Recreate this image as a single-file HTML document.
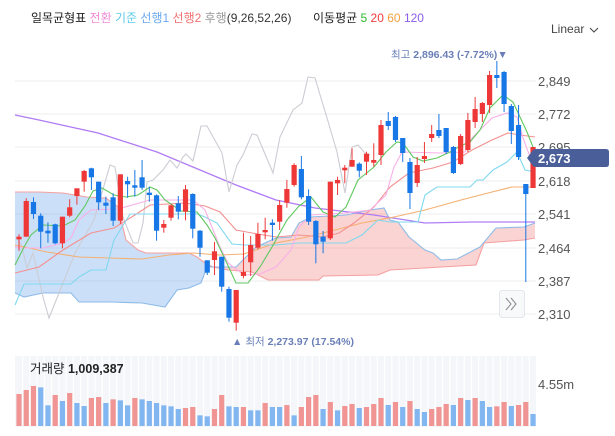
<!DOCTYPE html>
<html><head><meta charset="utf-8"><style>
body{margin:0;width:615px;height:436px;background:#fff;overflow:hidden;font-family:"Liberation Sans","Noto Sans CJK KR",sans-serif;}
svg{position:absolute;left:0;top:0}
</style></head><body>
<svg id="s" width="615" height="436" xmlns="http://www.w3.org/2000/svg">
<rect x="15" y="356" width="521" height="71" fill="#f4f6fa"/>
<g id="vol"></g>
<g stroke="#ececec" stroke-width="1">
<line x1="15" x2="536" y1="81" y2="81"/><line x1="15" x2="536" y1="114" y2="114"/>
<line x1="15" x2="536" y1="147" y2="147"/><line x1="15" x2="536" y1="181" y2="181"/>
<line x1="15" x2="536" y1="214" y2="214"/><line x1="15" x2="536" y1="248" y2="248"/>
<line x1="15" x2="536" y1="281" y2="281"/><line x1="15" x2="536" y1="314" y2="314"/>
</g>
<g id="cloud"></g>
<g id="lines" fill="none" stroke-width="1.1"></g>
<g id="candles"></g>
<g font-size="13" fill="#555">
<text x="538" y="86">2,849</text><text x="538" y="119">2,772</text><text x="538" y="152">2,695</text>
<text x="538" y="186">2,618</text><text x="538" y="219">2,541</text><text x="538" y="253">2,464</text>
<text x="538" y="286">2,387</text><text x="538" y="319">2,310</text>
<text x="538" y="389">4.55m</text>
</g>
<path d="M527,158 L533,150 Q534,149 536,149 L606,149 Q609,149 609,152 L609,164 Q609,167 606,167 L536,167 Q534,167 533,166 Z" fill="#4a5f9a"/>
<text x="538" y="163" font-size="13" fill="#fff" font-weight="bold">2,673</text>
<rect x="499.5" y="290.5" width="25" height="27" rx="3" fill="#f8f9fb" stroke="#e3e6ea"/>
<path d="M506,298 l5,6 l-5,6 M511,298 l5,6 l-5,6" stroke="#888" fill="none" stroke-width="1"/>
<text x="31" y="22" font-size="12" fill="#222">일목균형표 <tspan fill="#f08cd8">전환</tspan> <tspan fill="#5cc8e8">기준</tspan> <tspan fill="#6aa8ee">선행1</tspan> <tspan fill="#f07070">선행2</tspan> <tspan fill="#999">후행</tspan><tspan fill="#333">(9,26,52,26)</tspan>   <tspan x="313">이동평균</tspan> <tspan fill="#2ab82a">5</tspan> <tspan fill="#f03c3c">20</tspan> <tspan fill="#f5a040">60</tspan> <tspan fill="#8a5cf0">120</tspan></text>
<text x="551" y="33" font-size="12" fill="#444">Linear</text>
<path d="M590,28 l4,4 l4,-4" stroke="#444" fill="none"/>
<text x="391" y="58" font-size="10.5" fill="#6a7fb8"><tspan>최고 </tspan><tspan font-weight="bold">2,896.43 (-7.72%)</tspan>▼</text>
<text x="232" y="345" font-size="10.5" fill="#6a7fb8">▲ <tspan>최저 </tspan><tspan font-weight="bold">2,273.97 (17.54%)</tspan></text>
<text x="30" y="373" font-size="12.5" fill="#222">거래량 <tspan font-weight="bold">1,009,387</tspan></text>
</svg>
<script>
var NS="http://www.w3.org/2000/svg";
function el(p,t,a){var e=document.createElementNS(NS,t);for(var k in a)e.setAttribute(k,a[k]);p.appendChild(e);return e;}
function X(i){return 19+i*7.24;}
var C=[
[236.7,239.3,234.3,250.7,'r'],[201,236.7,198.3,236.7,'r'],[202,214,197.3,219,'b'],[215.7,231.7,213.3,248.3,'b'],
[230.7,233.3,222.3,242.7,'b'],[224.3,243.3,223.7,244.3,'b'],[216.7,243.3,216.7,248.3,'r'],[207.3,215.7,199.3,217.3,'r'],
[188.3,196,188.3,204.7,'r'],[171,181.7,170,191.7,'r'],[168.3,177.3,167.7,190,'b'],[181.7,202.3,181.7,210,'b'],
[202.7,205.7,196.7,214,'b'],[197.3,220.7,193.3,226,'b'],[174.3,220.7,174.3,224,'r'],[181,184.3,176.7,197.7,'b'],
[185.3,187.7,170,196.7,'b'],[177.3,187.7,160,190,'b'],[192.7,195,186.7,201.7,'b'],[195.3,230.7,194.3,240.7,'b'],
[224,227.7,220,232.7,'r'],[205.3,217.7,204.3,220.7,'r'],[203.3,211.7,196,219.3,'b'],[189.3,211.7,185,220.3,'r'],
[194,228.7,193.3,238.3,'b'],[230.7,247.7,230,256.7,'b'],[260.3,272.7,260.3,275,'b'],[251.3,260,242,275,'r'],
[256.7,286.7,256.7,291.7,'b'],[289,317.7,286.7,321.7,'b'],[290,322.7,290,330.7,'r'],[272,276,232.7,278.3,'r'],
[245,262.3,236,276,'r'],[234,247.7,222.7,249.3,'r'],[230,232.3,217.7,239.3,'r'],[222.7,225,219.3,240.7,'b'],
[205,221.7,200,230,'r'],[189,202.7,180,207.7,'r'],[165,185,163.3,186.7,'r'],[169,197.3,156,199.3,'b'],
[196,221.7,189.3,225,'b'],[221,244.3,220,263.3,'b'],[236.7,241.7,231,253.3,'b'],[181.7,238.3,181.7,240,'r'],
[180,183.3,176.7,195,'r'],[167.7,170.3,165,183.3,'r'],[160,166.7,148.3,166.7,'r'],[163.7,170.7,162.3,177.3,'b'],
[153.7,161.7,151.7,175,'r'],[160,162.7,143.3,166.7,'r'],[125,155,120,165,'r'],[121,126,112,130,'b'],
[117,140,116,142,'b'],[138,153,138,162,'b'],[162,193,158,209,'b'],[165,183,157,187,'r'],
[156,159,142,163,'r'],[134,138,125,142,'r'],[130,136,114,138,'b'],[128,152,128,154,'b'],
[147,173,146,174,'b'],[136,164,134,165,'r'],[120,150,113,152,'r'],[109,122,97,128,'r'],
[103,114,102,122,'r'],[75,105,71,113,'r'],[75,78,61,88,'b'],[72,104,71,112,'b'],
[106,131,104,144,'b'],[125,157,105,160,'b'],[184,194,184,282,'b'],[147,188,147,188,'r']];
var g=document.getElementById('candles');
C.forEach(function(c,i){var x=X(i),col=c[4]=='r'?'#ee3838':'#1877e6';
el(g,'line',{x1:x,x2:x,y1:c[2],y2:c[3],stroke:col,'stroke-width':1});
el(g,'rect',{x:x-2.6,y:c[0],width:5.2,height:Math.max(1.5,c[1]-c[0]),fill:col});});
var V=[['r',162],['r',150],['r',138],['b',142],['b',196],['r',165],['b',183],['r',159],['b',189],['b',198],['r',174],['r',171],['b',189],['r',178],['b',181],['b',196],['r',174],['b',178],['b',183],['b',189],['b',196],['b',199],['b',207],['r',204],['r',201],['b',226],['b',229],['r',207],['r',165],['b',199],['b',201],['r',201],['b',211],['b',211],['r',189],['b',201],['b',201],['r',195],['b',226],['r',201],['r',171],['r',165],['b',207],['r',186],['b',211],['r',198],['r',192],['b',204],['r',201],['r',192],['r',174],['b',195],['r',186],['b',201],['r',183],['b',207],['b',216],['r',207],['r',201],['r',192],['b',195],['r',174],['b',180],['r',174],['b',183],['b',201],['r',199],['r',186],['b',198],['r',195],['r',186],['b',222]];
var vg=document.getElementById('vol');
V.forEach(function(v,i){var x=X(i);el(vg,'line',{x1:x+3.6,x2:x+3.6,y1:356,y2:427,stroke:'#fff','stroke-width':1.2});
var t=340+v[1]/3;el(vg,'rect',{x:x-2.6,y:t,width:5.2,height:426-t,fill:v[0]=='r'?'#f09494':'#82b6f0'});});
function P(a){return a.map(function(p){return p.join(',')}).join(' ');}
var top2=[[15,192],[39,192],[63,193],[87,197],[106,198],[118,207],[126,240],[138,250],[146,253],[189,253],[197,257],[205,263],[213,267],[228,270],[252,272],[268,280],[319,280],[323,276],[378,275],[390,270],[476,265],[484,243],[524,240],[535,238]];
var s1=[[15,293],[24,297],[43,293],[71,293],[79,302],[110,302],[142,303],[165,307],[177,290],[189,288],[201,283],[207,267],[220,267],[236,267],[256,247],[276,238],[291,237],[299,223],[311,217],[346,215],[370,210],[384,208],[390,220],[398,222],[409,237],[425,250],[433,253],[441,260],[457,259],[480,247],[496,228],[524,227],[535,223]];
var cg=document.getElementById('cloud');
var poly=s1.concat(top2.slice().reverse());
el(cg,'clipPath',{id:'cb'});el(document.getElementById('cb'),'rect',{x:0,y:0,width:206,height:436});
el(cg,'clipPath',{id:'cr'});el(document.getElementById('cr'),'rect',{x:206,y:0,width:400,height:436});
el(cg,'polygon',{points:P(poly),fill:'rgba(110,165,235,0.36)','clip-path':'url(#cb)'});
el(cg,'polygon',{points:P(poly),fill:'rgba(240,110,110,0.3)','clip-path':'url(#cr)'});
var L=document.getElementById('lines');
function line(pts,col,w){el(L,'polyline',{points:P(pts),stroke:col,'stroke-width':w||1.1});}
line(top2,'#f5a0a0');line(s1,'#8ebbe8');
line([[15,115],[39,120],[98,133],[157,152],[236,185],[276,200],[315,208],[374,215],[425,223],[472,222],[535,222]],'#b07cf5',1.3);
line([[17,237],[22,247],[27,268],[33,253],[43,297],[49,318],[63,283],[75,253],[94,220],[110,165],[115,167],[123,217],[133,243],[138,243],[143,223],[147,182],[153,180],[163,170],[170,160],[177,168],[183,157],[186,154],[193,161],[201,126],[207,126],[222,153],[229,192],[237,165],[243,155],[252,134],[257,135],[273,173],[280,137],[293,110],[302,103],[308,77],[315,78],[327,118],[337,152],[345,193],[352,147],[358,145],[365,153],[370,155]],'#cccdd4');
line([[15,245],[47,252],[79,257],[110,258],[142,259],[169,255],[193,253],[220,255],[244,254],[276,243],[307,237],[335,230],[362,223],[394,217],[425,210],[461,200],[492,192],[512,187],[535,187]],'#f5b070');
line([[15,273],[39,267],[63,250],[91,233],[114,228],[138,213],[150,205],[185,203],[205,206],[220,212],[236,230],[252,233],[276,237],[299,235],[323,237],[339,233],[354,223],[374,207],[390,187],[409,173],[433,168],[453,162],[472,150],[492,140],[508,133],[520,135],[535,137]],'#f59090');
line([[15,305],[24,284],[71,284],[79,277],[91,270],[106,270],[114,240],[122,227],[130,214],[197,214],[205,217],[217,223],[232,244],[244,245],[276,245],[299,243],[346,243],[362,235],[378,220],[390,222],[418,222],[425,195],[437,187],[470,187],[477,180],[483,180],[493,170],[507,162],[517,152],[525,170],[535,172]],'#80d8f0');
line([[15,247],[24,248],[43,248],[63,243],[71,238],[79,220],[91,210],[118,209],[150,200],[193,200],[205,210],[220,247],[228,263],[244,275],[260,274],[276,267],[291,250],[299,227],[311,215],[346,213],[370,210],[386,195],[394,167],[402,152],[441,153],[465,152],[472,138],[492,118],[507,113],[517,117],[523,138],[533,165]],'#f8b0e8');
line([[15,265],[24,247],[31,235],[43,225],[63,226],[75,220],[85,206],[93,191],[102,188],[114,195],[126,197],[138,195],[150,187],[157,190],[165,200],[181,211],[197,212],[207,225],[215,238],[224,257],[236,283],[248,283],[260,267],[272,247],[287,220],[299,206],[311,197],[323,212],[335,217],[346,207],[358,180],[374,167],[386,152],[397,142],[403,143],[413,157],[423,161],[437,158],[450,152],[460,146],[470,142],[480,130],[490,108],[503,95],[513,102],[520,117],[527,132],[533,147]],'#60c860');
</script>
</body></html>
